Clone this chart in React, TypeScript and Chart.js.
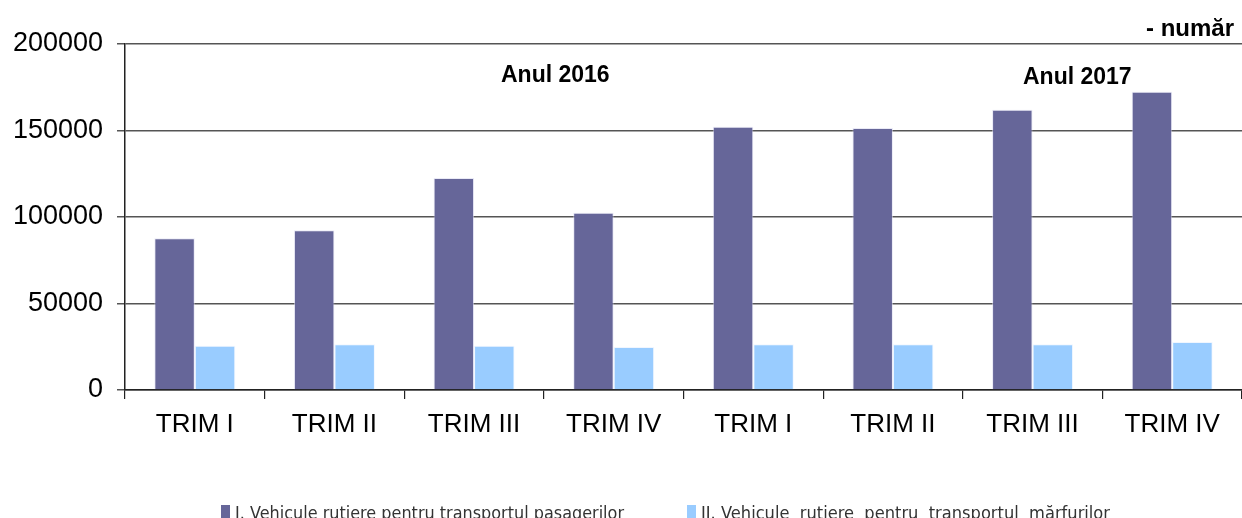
import React, { useEffect, useRef } from "react";
import { Chart, registerables } from "chart.js";

Chart.register(...registerables);

const categories = ["TRIM I", "TRIM II", "TRIM III", "TRIM IV", "TRIM I", "TRIM II", "TRIM III", "TRIM IV"];
const passengerVehicles = [87700, 92300, 122500, 102500, 152200, 151400, 162000, 172400];
const goodsVehicles = [25600, 26400, 25600, 24900, 26400, 26400, 26400, 27700];
const yTickValues = [0, 50000, 100000, 150000, 200000];
const seriesLabels = [
  "I. Vehicule rutiere pentru transportul pasagerilor",
  "II. Vehicule  rutiere  pentru  transportul  mărfurilor",
];
const seriesColors = ["#666699", "#99CCFF"];
const yearLabels = ["Anul 2016", "Anul 2017"];
const unitLabel = "- număr";

const annotationPlugin = {
  id: "annotations",
  afterDraw(chart: any) {
    const ctx = chart.ctx;
    ctx.save();
    ctx.fillStyle = "#000";
    ctx.textBaseline = "alphabetic";
    ctx.textAlign = "left";
    ctx.font = "bold 23px 'Liberation Sans', Arial, sans-serif";
    ctx.fillText(yearLabels[0], 501, 82);
    ctx.fillText(yearLabels[1], 1023, 84);
    ctx.font = "bold 24px 'Liberation Sans', Arial, sans-serif";
    ctx.fillText(unitLabel, 1146, 36);

    // legend
    ctx.font = "18px 'DejaVu Sans', sans-serif";
    const legendItems = [
      { sx: 221, tx: 235, tw: 389 },
      { sx: 687, tx: 701, tw: 409 },
    ];
    legendItems.forEach((it, i) => {
      ctx.fillStyle = seriesColors[i];
      ctx.fillRect(it.sx, 505, 9, 14);
      ctx.fillStyle = "#333";
      ctx.fillText(seriesLabels[i], it.tx, 519, it.tw);
    });
    ctx.restore();
  },
};

export default function App() {
  const canvasRef = useRef<HTMLCanvasElement | null>(null);

  useEffect(() => {
    document.body.style.margin = "0";
    const canvas = canvasRef.current;
    if (!canvas) return;
    const chart = new Chart(canvas, {
      type: "bar",
      data: {
        labels: categories,
        datasets: [
          {
            label: seriesLabels[0],
            data: passengerVehicles,
            backgroundColor: seriesColors[0],
            borderColor: "rgba(220,220,240,0.6)",
            borderWidth: 1,
            barPercentage: 1,
            categoryPercentage: 0.58,
          },
          {
            label: seriesLabels[1],
            data: goodsVehicles,
            backgroundColor: seriesColors[1],
            borderColor: "rgba(230,240,255,0.6)",
            borderWidth: 1,
            barPercentage: 1,
            categoryPercentage: 0.58,
          },
        ],
      },
      options: {
        animation: false,
        responsive: false,
        maintainAspectRatio: false,
        layout: { padding: { top: 44, right: 0, left: 0, bottom: 0 } },
        plugins: {
          legend: { display: false },
          tooltip: { enabled: false },
          title: { display: false },
        },
        scales: {
          x: {
            offset: true,
            grid: {
              offset: true,
              drawOnChartArea: false,
              drawTicks: true,
              tickLength: 9,
              color: "#222",
              lineWidth: 1.2,
            },
            border: { display: true, color: "#222", width: 1.5 },
            ticks: {
              color: "#000",
              padding: 10,
              maxRotation: 0,
              autoSkip: false,
              font: { family: "'Liberation Sans', Arial, sans-serif", size: 26 },
            },
            afterFit(scale: any) {
              scale.height = 128;
            },
          },
          y: {
            min: 0,
            max: 200000,
            afterBuildTicks(scale: any) {
              scale.ticks = yTickValues.map((v) => ({ value: v }));
            },
            grid: {
              color: "#555",
              lineWidth: 1.5,
              tickLength: 8,
              drawTicks: true,
            },
            border: { display: true, color: "#222", width: 1.5 },
            ticks: {
              color: "#000",
              padding: 14,
              font: { family: "'Liberation Sans', Arial, sans-serif", size: 27 },
              callback: (v: any) => String(v),
            },
            afterFit(scale: any) {
              scale.width = 125;
            },
          },
        },
      },
      plugins: [annotationPlugin],
    });
    return () => chart.destroy();
  }, []);

  return (
    <div style={{ position: "absolute", left: 0, top: 0, width: 1242, height: 518, background: "#fff" }}>
      <canvas ref={canvasRef} width={1242} height={518} style={{ width: 1242, height: 518, display: "block" }} />
    </div>
  );
}
